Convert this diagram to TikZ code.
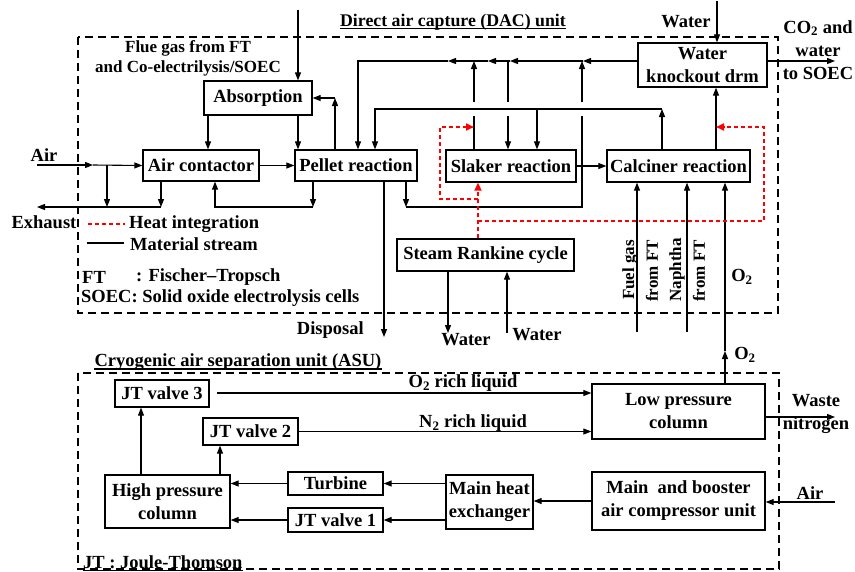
\documentclass[tikz,border=0pt]{standalone}
\usepackage{fontspec}
\setmainfont{Liberation Serif}
\usetikzlibrary{arrows.meta}
\begin{document}
\begin{tikzpicture}[x=1pt,y=-1pt,
  font=\fontsize{18.5}{23}\selectfont\bfseries,
  box/.style 2 args={draw, line width=1.3pt, minimum width=#1pt, minimum height=#2pt, inner sep=0pt, align=center},
  ln/.style={line width=1.1pt},
  arr/.style={line width=1.1pt, -{Triangle[length=8pt,width=6pt]}},
  heat/.style={red, line width=1.8pt, dash pattern=on 4pt off 3pt},
  harr/.style={heat, -{Triangle[length=8pt,width=7pt]}},
  unitbox/.style={line width=2pt, dash pattern=on 8pt off 5pt},
  lbl/.style={inner sep=0pt, align=center},
  small/.style={font=\fontsize{17}{20}\selectfont\bfseries},
  uline/.style={line width=1.3pt},
]
\useasboundingbox (0,0) rectangle (855,571);

% unit frames
\draw[unitbox] (78,37) rectangle (778,313);
\draw[unitbox] (78,373) rectangle (779,569);

% ---------- DAC nodes
\node[box={108}{34}] (abs) at (258,98) {Absorption};
\node[box={116}{31}] (ac) at (201,165.5) {Air contactor};
\node[box={122}{31}] (pel) at (356,165.5) {Pellet reaction};
\node[box={130}{32}] (slk) at (511,166) {Slaker reaction};
\node[box={143}{32}] (cal) at (678.5,166) {Calciner reaction};
\node[box={129}{44}] (wkd) at (702.5,65) {Water\\knockout drm};
\node[box={177}{32}] (src) at (485.5,255) {Steam Rankine cycle};

% ---------- ASU nodes
\node[box={94}{27}] (jt3) at (162,393.5) {JT valve 3};
\node[box={95}{27}] (jt2) at (250.5,431.5) {JT valve 2};
\node[box={125}{53}] (hpc) at (167.5,501.5) {High pressure\\column};
\node[box={95}{23}] (tur) at (335.5,483.5) {Turbine};
\node[box={95}{24}] (jt1) at (335.5,520) {JT valve 1};
\node[box={87}{54}] (mhe) at (489.5,502) {Main heat\\exchanger};
\node[box={173}{58}] (mac) at (678.5,501) {Main~ and booster\\air compressor unit};
\node[box={173}{55}] (lpc) at (678.5,411.5) {Low pressure\\column};

% ---------- helper coordinates
\coordinate (x141) at (141,0);
\coordinate (x208) at (208,0);
\coordinate (x220) at (220,0);
\coordinate (x298) at (298,0);
\coordinate (x335) at (335,0);
\coordinate (x358) at (358,0);
\coordinate (x375) at (375,0);
\coordinate (x406) at (406,0);
\coordinate (x474) at (474,0);
\coordinate (x508) at (508,0);
\coordinate (x537) at (537,0);
\coordinate (x582) at (582,0);
\coordinate (x662) at (662,0);
\coordinate (x716) at (716,0);
\coordinate (g1) at (0,116);
\coordinate (g2) at (0,102);
\coordinate (ym) at (0,109);
\coordinate (yb) at (0,207);

% ---------- DAC connectors
\coordinate (airin) at (37,165);
\coordinate (airmid) at (93,165);
\coordinate (exbr) at (107,207);
\coordinate (acdn) at (161,207);
\coordinate (exhout) at (37,207);
\coordinate (pelret) at (313,207);
\coordinate (acret) at (215,207);
\draw[arr] (airin) -- (airmid);
\draw[arr] (airmid) -- (ac.west);
\draw[arr] (exbr |- airin) -- (exbr);
\draw[arr] (ac.south -| acdn) -- (acdn);
\draw[arr] (acdn) -- (exhout);
\draw[arr] (pel.south -| pelret) -- (pelret);
\draw[arr] (pelret) -- (acret) -- (ac.south -| acret);
\draw[arr] (ac) -- (pel);

\coordinate (flue) at (298,10);
\draw[arr] (flue) -- (abs.north -| flue);
\draw[arr] (abs.south -| x208) -- (ac.north -| x208);
\draw[arr] (abs.south -| x298) -- (pel.north -| x298);
\draw[arr] (pel.north -| x335) -- (x335 |- abs.east);
\draw[arr] (x335 |- abs.east) -- (abs.east);

% top recycle line
\coordinate (t583) at (583,61);
\coordinate (t510) at (510,61);
\coordinate (t488) at (488,61);
\coordinate (t448) at (448,61);
\draw[arr] (wkd.west |- t583) -- (t583);
\draw[arr] (t583) -- (t510);
\draw[arr] (t510) -- (t488);
\draw[arr] (t488) -- (t448);
\draw[arr] (t448) -- (x358 |- t448) -- (pel.north -| x358);

\draw[ln] (slk.north -| x474) -- (x474 |- g1);
\draw[arr] (x474 |- g2) -- (x474 |- t583);
\draw[ln] (x508 |- t583) -- (x508 |- g2);
\draw[arr] (x508 |- g1) -- (slk.north -| x508);
\draw[arr] (pel.south -| x406) -- (x406 |- yb);
\draw[ln] (x406 |- yb) -- (x582 |- yb) -- (x582 |- g1);
\draw[arr] (x582 |- g2) -- (x582 |- t583);

% middle line
\draw[arr] (cal.north -| x662) -- (x662 |- ym);
\draw[arr] (x662 |- ym) -- (x375 |- ym) -- (pel.north -| x375);
\draw[arr] (x537 |- ym) -- (slk.north -| x537);

\draw[arr] (slk) -- (cal);
\draw[arr] (cal.north -| x716) -- (wkd.south -| x716);
\coordinate (win) at (717,1);
\draw[arr] (win) -- (wkd.north -| win);
\coordinate (co2) at (835,61);
\draw[arr] (wkd.east |- co2) -- (co2);

\coordinate (disp) at (384,337);
\draw[arr] (pel.south -| disp) -- (disp);
\coordinate (wout) at (448,333);
\draw[arr] (src.south -| wout) -- (wout);
\coordinate (wret) at (507,333);
\draw[arr] (wret) -- (src.south -| wret);
\coordinate (fuel) at (637,332);
\draw[arr] (fuel) -- (cal.south -| fuel);
\coordinate (naph) at (687,332);
\draw[arr] (naph) -- (cal.south -| naph);
\coordinate (o2m) at (725,351);
\draw[arr] (lpc.north -| o2m) -- (o2m);
\draw[arr] (o2m) -- (cal.south -| o2m);

% heat integration
\coordinate (r1) at (478,221);
\coordinate (r2) at (764,221);
\coordinate (r3) at (764,127);
\coordinate (r4) at (478,199);
\coordinate (r5) at (440,199);
\coordinate (r6) at (440,127);
\draw[harr] (src.north -| r1) -- (slk.south -| r1);
\draw[harr] (r1) -- (r2) -- (r3) -- (x716 |- r3);
\draw[harr] (r4) -- (r5) -- (r6) -- (x474 |- r6);

% legend
\coordinate (lga) at (88,224);
\coordinate (lgb) at (125,224);
\coordinate (lgc) at (87,243);
\coordinate (lgd) at (124,243);
\draw[heat] (lga) -- (lgb);
\draw[ln] (lgc) -- (lgd);
\node[lbl, anchor=west] (lh) at (129,224) {Heat integration};
\node[lbl, anchor=west] (lm) at (130,244) {Material stream};
\node[lbl, anchor=west] (lft) at (82,277) {FT};
\node[lbl, anchor=west] (lft2) at (136,277) {: Fischer--Tropsch};
\node[lbl, anchor=west] (lso) at (81,298) {SOEC: Solid oxide electrolysis cells};

% ---------- ASU connectors
\coordinate (o2s) at (217,393);
\draw[arr] (o2s) -- (lpc.west |- o2s);
\draw[arr] (jt2.east) -- (lpc.west |- jt2.east);
\draw[arr] (hpc.north -| x141) -- (jt3.south -| x141);
\draw[arr] (hpc.north -| x220) -- (jt2.south -| x220);
\draw[arr] (tur.west) -- (hpc.east |- tur.west);
\draw[arr] (jt1.west) -- (hpc.east |- jt1.west);
\draw[arr] (mhe.west |- tur.east) -- (tur.east);
\draw[arr] (mhe.west |- jt1.east) -- (jt1.east);
\draw[arr] (mac.west) -- (mhe.east |- mac.west);
\coordinate (airin2) at (835,502);
\draw[arr] (airin2) -- (mac.east |- airin2);
\coordinate (wn) at (835,417);
\draw[arr] (lpc.east |- wn) -- (wn);

% ---------- labels
\node[lbl, font=\fontsize{17.8}{20}\selectfont\bfseries] (tdac) at (453,22) {Direct air capture (DAC) unit};
\draw[uline] ([yshift=-2.5pt]tdac.base west) -- ([yshift=-2.5pt]tdac.base east);
\node[lbl, small] (tflue) at (188,58) {Flue gas from FT\\and Co-electrilysis/SOEC};
\node[lbl] (tair) at (44,155) {Air};
\node[lbl] (texh) at (44,222) {Exhaust};
\node[lbl, anchor=east] (tdisp) at (364,330) {Disposal};
\node[lbl] (tw1) at (466,340) {Water};
\node[lbl] (tw2) at (537,335) {Water};
\node[lbl, small, rotate=90] (tf1) at (630,270) {Fuel gas};
\node[lbl, small, rotate=90] (tf2) at (652,271) {from FT};
\node[lbl, small, rotate=90] (tn1) at (677,270) {Naphtha};
\node[lbl, small, rotate=90] (tn2) at (699,271) {from FT};
\node[lbl] (to2a) at (742,277) {O\textsubscript{2}};
\node[lbl] (to2b) at (745,355) {O\textsubscript{2}};
\node[lbl] (tw3) at (686,22) {Water};
\node[lbl] (tco2) at (818,50) {CO\textsubscript{2} and\\water\\to SOEC};
\node[lbl] (tasu) at (238,362) {Cryogenic air separation unit (ASU)};
\draw[uline] ([yshift=-2.5pt]tasu.base west) -- ([yshift=-2.5pt]tasu.base east);
\node[lbl, anchor=west] (tjt) at (83,562) {JT : Joule-Thomson};
\draw[uline] ([yshift=-2.5pt]tjt.base west) -- ([yshift=-2.5pt]tjt.base east);
\node[lbl] (to2l) at (463,383) {O\textsubscript{2} rich liquid};
\node[lbl] (tn2l) at (473,423) {N\textsubscript{2} rich liquid};
\node[lbl] (twn) at (816,414) {Waste\\nitrogen};
\node[lbl] (tair2) at (810,493) {Air};
\end{tikzpicture}
\end{document}
